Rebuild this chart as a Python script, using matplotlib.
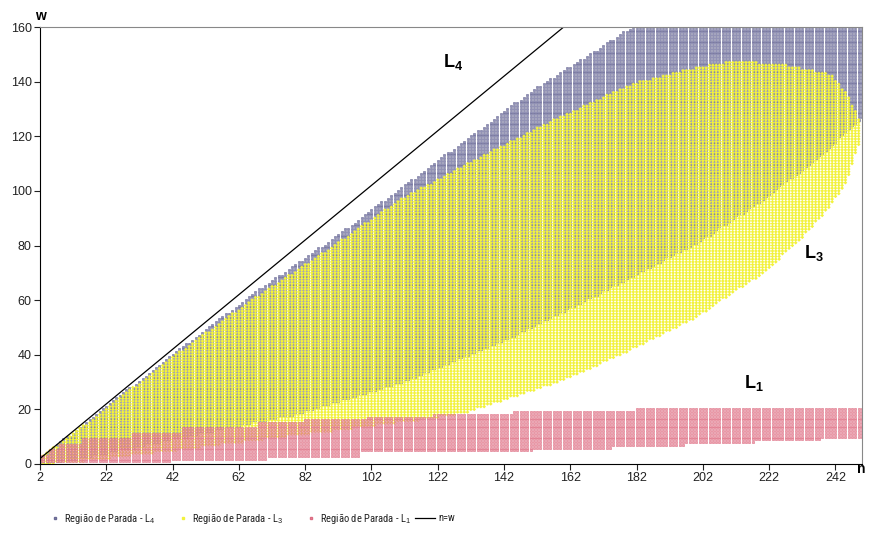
import numpy as np
import matplotlib
matplotlib.use("Agg")
import matplotlib.pyplot as plt
from matplotlib.lines import Line2D

plt.rcParams['font.family'] = ['Liberation Sans', 'DejaVu Sans']
plt.rcParams['mathtext.fontset'] = 'custom'
plt.rcParams['mathtext.rm'] = 'Liberation Sans'
plt.rcParams['mathtext.bf'] = 'Liberation Sans:bold'

n_values = np.arange(2, 251)

# L4 stopping region (upper / lower edge)
l4_top_n = [2, 20, 40, 65, 90, 120, 150, 181, 250]
l4_top_w = [2, 19, 38, 61, 82, 109, 136, 160, 160]
l4_bot_n = [2, 20, 40, 60, 80, 110, 141, 171, 201, 221, 236, 248, 250]
l4_bot_w = [0, 4, 9, 14, 19, 30, 45, 63, 82, 98, 112, 125, 127]

# L3 stopping region
l3_top_n = [2, 20, 40, 65, 90, 110, 130, 156, 181, 201, 211, 226, 241, 246, 249]
l3_top_w = [2, 18, 37, 59, 79, 96, 109, 125, 139, 145, 147, 146, 142, 134, 126]
l3_bot_n = [2, 20, 40, 60, 80, 100, 120, 130, 140, 150, 160, 171, 180, 190,
            200, 211, 220, 231, 240, 245, 249]
l3_bot_w = [0, 2, 5, 8, 11, 14, 17, 19, 23, 27, 31, 37, 42, 48,
            54, 63, 70, 82, 94, 103, 117]

# L1 stopping region (step edges: n where a new level starts)
l1_top_start = [2, 5, 8, 15, 30, 45, 68, 82, 101, 121, 145, 182]
l1_top_w = [3, 5, 7, 9, 11, 13, 15, 16, 17, 18, 19, 20]
l1_bot_start = [2, 42, 71, 99, 151, 175, 197, 218, 238]
l1_bot_w = [1, 2, 3, 5, 6, 7, 8, 9, 10]

legend_labels = [r'Região de Parada - L$_4$', r'Região de Parada - L$_3$',
                 r'Região de Parada - L$_1$', 'n=w']

c4 = ('#9090b8', '#6a6a94')
c3 = ('#f2f23c', '#f2f23c')
c1 = ('#eea4b0', '#dc6c82')

narrow = ['Liberation Sans Narrow', 'Roboto Condensed', 'DejaVu Sans Condensed',
          'Open Sans Condensed', 'Liberation Sans']


def grid_points(n, lo, hi):
    xs, ys = [], []
    for ni, b, t in zip(n, lo, hi):
        for w in range(int(b), int(t) + 1):
            xs.append(ni)
            ys.append(w)
    return np.array(xs), np.array(ys)


def curve_region(top_n, top_w, bot_n, bot_w):
    n = n_values[(n_values >= max(top_n[0], bot_n[0])) & (n_values <= min(top_n[-1], bot_n[-1]))]
    top = np.round(np.interp(n, top_n, top_w))
    bot = np.round(np.interp(n, bot_n, bot_w))
    return grid_points(n, bot, top)


def step_region(top_start, top_w, bot_start, bot_w):
    n = n_values
    top = np.array(top_w)[np.searchsorted(top_start, n, side='right') - 1]
    bot = np.array(bot_w)[np.searchsorted(bot_start, n, side='right') - 1]
    return grid_points(n, bot, top)


x4, y4 = curve_region(l4_top_n, l4_top_w, l4_bot_n, l4_bot_w)
x3, y3 = curve_region(l3_top_n, l3_top_w, l3_bot_n, l3_bot_w)
x1, y1 = step_region(l1_top_start, l1_top_w, l1_bot_start, l1_bot_w)

fig = plt.figure(figsize=(8.69, 5.43), dpi=100)
ax = fig.add_axes([40 / 869, 79 / 543, 822 / 869, 437 / 543])

ax.scatter(x4, y4, s=3.6, marker='s', facecolor=c4[0], edgecolor=c4[1], linewidth=0.4)
ax.scatter(x3, y3, s=3.4, marker='D', facecolor=c3[0], edgecolor='none')
ax.scatter(x1, y1, s=3.6, marker='s', facecolor=c1[0], edgecolor=c1[1], linewidth=0.4)

n_line = np.arange(2, 161)
ax.plot(n_line, n_line, color='black', linewidth=0.9)

ax.set_xlim(2, 250)
ax.set_ylim(0, 160)
ax.set_xticks(np.arange(2, 243, 20))
ax.set_yticks(np.arange(0, 161, 20))
ax.tick_params(labelsize=9, length=4, width=0.8, colors='#222222', pad=2)
ax.spines['left'].set_color('black')
ax.spines['bottom'].set_color('black')
ax.spines['top'].set_color('#888888')
ax.spines['right'].set_color('#888888')

ax.text(0, 1.01, 'w', transform=ax.transAxes, fontsize=10, fontweight='bold', ha='center', va='bottom')
ax.text(0.999, -0.012, 'n', transform=ax.transAxes, fontsize=10, fontweight='bold', ha='center', va='center')

lab = dict(fontsize=13, fontweight='bold', va='baseline')
ax.text(123.5, 145.5, r'L$_\mathbf{4}$', **lab)
ax.text(232.5, 75.5, r'L$_\mathbf{3}$', **lab)
ax.text(214.5, 28, r'L$_\mathbf{1}$', **lab)

# legend laid out by hand to follow the original spacing
leg_y = 1 - 518 / 543
marker_x = [55, 183, 311]
text_x = [64, 192, 320, 438]
for mx, col in zip(marker_x, [c4, c3, c1]):
    fig.add_artist(Line2D([mx / 869], [leg_y], marker='s', markersize=2, linestyle='none',
                          markerfacecolor=col[0], markeredgecolor=col[1], transform=fig.transFigure))
fig.add_artist(Line2D([415 / 869, 435 / 869], [leg_y, leg_y], color='black', linewidth=0.9,
                      transform=fig.transFigure))
for tx, txt in zip(text_x, legend_labels):
    fig.text(tx / 869, leg_y, txt, fontsize=7.6, family=narrow, ha='left', va='center', color='#222222')

fig.savefig('out.png', dpi=100)
